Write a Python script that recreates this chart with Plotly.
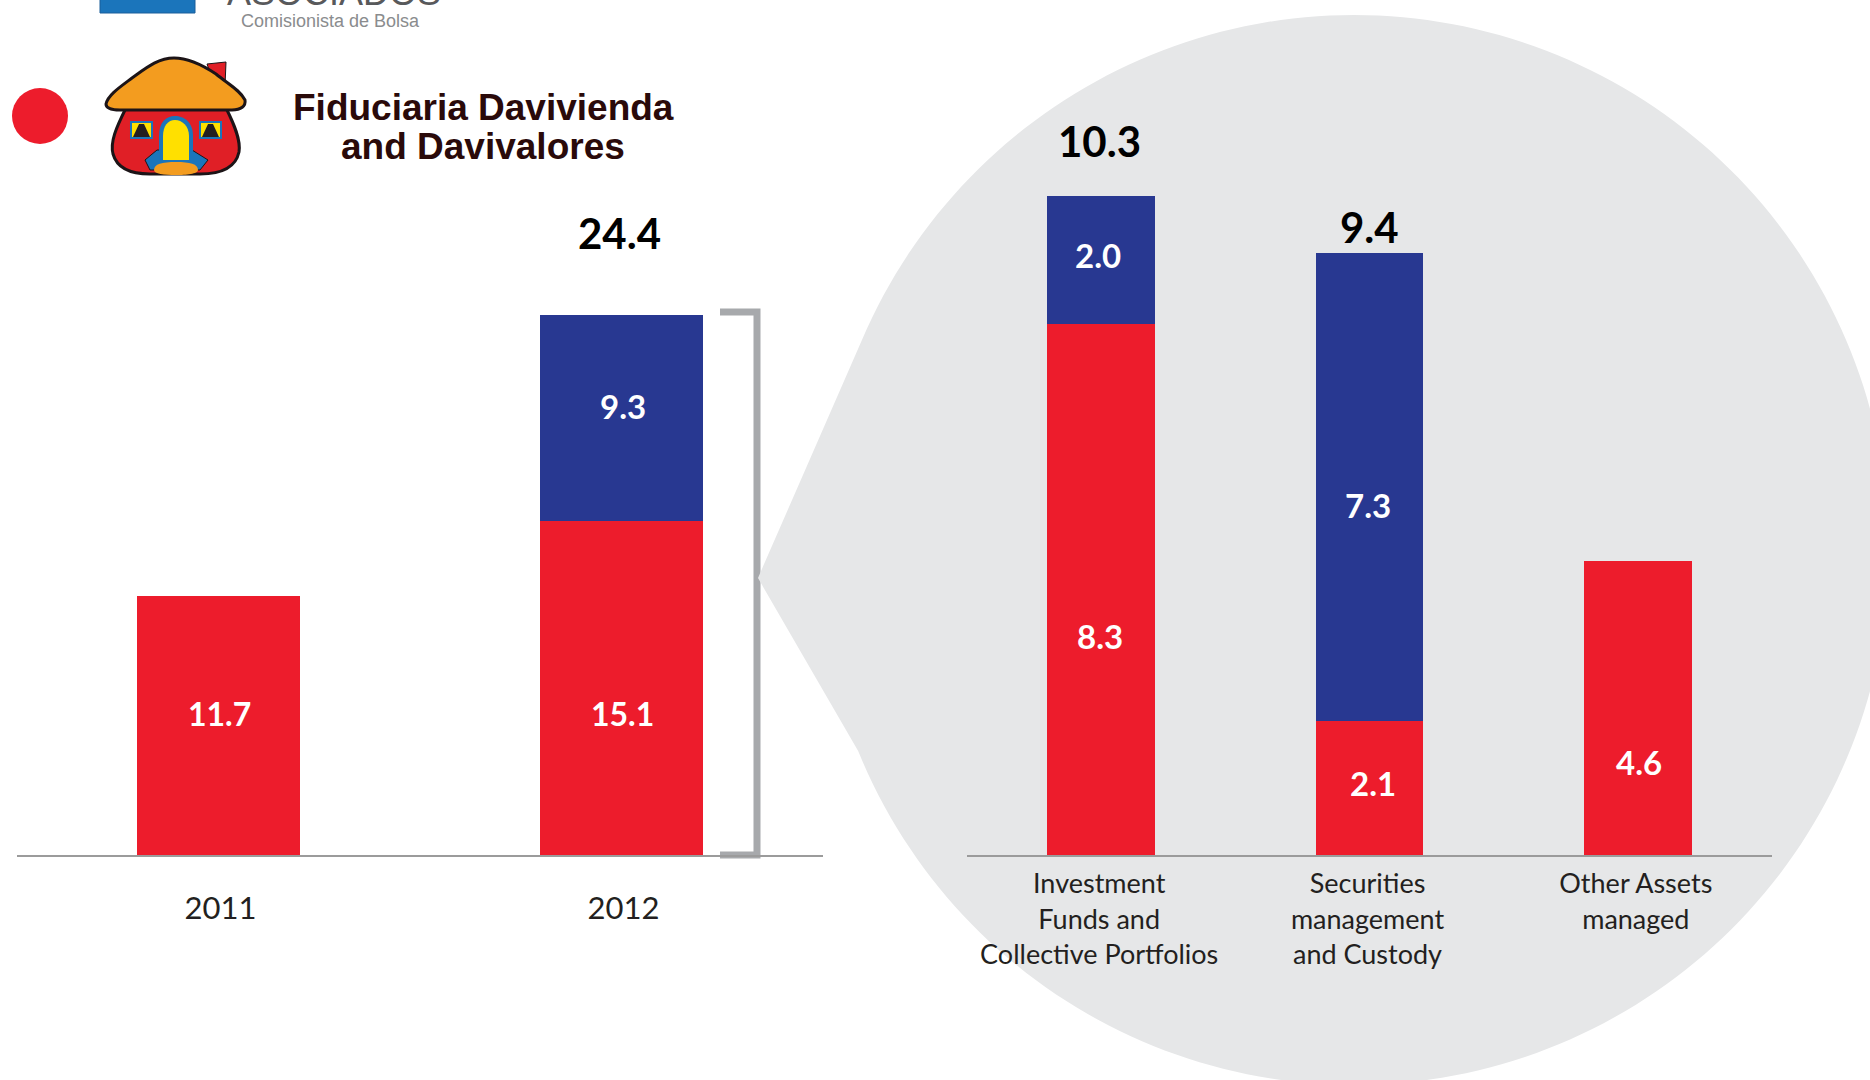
import math
import plotly.graph_objects as go

# Chart values (trillions of pesos)
years = ["2011", "2012"]
year_red = [11.7, 15.1]
year_blue = [None, 9.3]
year_total = 24.4

lines = ["Investment<br>Funds and<br>Collective Portfolios",
         "Securities<br>management<br>and Custody",
         "Other Assets<br>managed"]
line_red = [8.3, 2.1, 4.6]
line_blue = [2.0, 7.3, None]
line_total = [10.3, 9.4]

W, H = 1870, 1080
BASE = 855
RED, BLUE = "#ED1C2C", "#283891"
BUBBLE, BRACKET, AXIS = "#E6E7E8", "#A7A9AC", "#9B9B9B"
LABEL = "Lato"


def px(x):
    return x / W


def py(y):
    return 1 - y / H


def path(points, close=True):
    body = "L".join(f"{px(x):.5f},{py(y):.5f}" for x, y in points)
    return "M" + body + ("Z" if close else "")


def curve(d):
    """SVG-like curve written in canvas pixels: tokens are commands and x,y pairs."""
    out = []
    for tok in d.split():
        if "," in tok:
            x, y = tok.split(",")
            out.append(f"{px(float(x)):.5f},{py(float(y)):.5f}")
        else:
            out.append(tok)
    return " ".join(out)


# Callout bubble: a circle pulled out to a point next to the bracket.
# The outline leaves the tip, follows the circle round the bottom, right and top, and returns.
cx, cy, r = 1354, 550, 535
a0 = math.atan2(751 - cy, 858 - cx)
a1 = math.atan2(340 - cy, 862 - cx)
if a1 > a0:
    a1 -= 2 * math.pi
arc = [(cx + r * math.cos(a0 + (a1 - a0) * i / 240),
        cy + r * math.sin(a0 + (a1 - a0) * i / 240)) for i in range(241)]
bubble = [(758, 578)] + arc

shapes = [
    # bracket tying the 2012 column to the breakdown
    dict(type="path", xref="paper", yref="paper", layer="below",
         path=path([(720, 312), (757, 312), (757, 855), (720, 855)], close=False),
         line=dict(color=BRACKET, width=7), fillcolor="rgba(0,0,0,0)"),
    dict(type="path", xref="paper", yref="paper", layer="below",
         path=path(bubble), fillcolor=BUBBLE, line=dict(width=0)),
    # marker dot
    dict(type="circle", xref="paper", yref="paper", layer="above",
         x0=px(12), x1=px(68), y0=py(144), y1=py(88), fillcolor=RED, line=dict(width=0)),
    # partial blue block of the logo above
    dict(type="rect", xref="paper", yref="paper", layer="above",
         x0=px(100), x1=px(195), y0=py(13), y1=py(-2), fillcolor="#1B75BB",
         line=dict(color="#1B5E9A", width=1)),
]


def logo(d, fill, line=None, width=0):
    shapes.append(dict(type="path", xref="paper", yref="paper", layer="above",
                       path=curve(d), fillcolor=fill,
                       line=dict(color=line or fill, width=width)))


INK = "#1C1417"
# house logo: chimney, walls, roof, door, windows and step
logo("M 207,64 L 226,62 L 225,86 L 212,78 Z", "#E01F26", INK, 1)
logo("M 126,108 C 116,128 110,142 113,154 C 117,168 130,174 150,174 L 200,174 "
     "C 224,174 236,166 239,152 C 241,140 234,124 226,108 Z", "#E01F26", INK, 3)
logo("M 174,58 C 158,58 146,68 132,78 C 120,87 108,95 106,104 C 106,109 112,110 120,110 "
     "L 232,110 C 241,110 246,106 245,100 C 240,90 228,84 216,74 C 204,66 190,58 174,58 Z",
     "#F39C1F", INK, 3)
logo("M 145,160 L 157,150 L 192,150 L 208,160 L 200,170 L 150,170 Z", "#1B75BB", INK, 1)
logo("M 159,160 L 159,136 C 159,122 166,116 175,116 C 184,116 193,122 193,136 L 193,160 Z",
     "#1B75BB")
logo("M 163,160 L 163,136 C 163,126 168,120 175,120 C 182,120 189,126 189,136 L 189,160 Z",
     "#FFE000")
logo("M 154,170 C 154,164 162,162 176,162 C 190,162 198,164 198,170 C 198,174 186,175 176,175 "
     "C 164,175 154,174 154,170 Z", "#F39C1F")
for left in (131, 200):
    logo(f"M {left},122 L {left + 21},122 L {left + 21},138 L {left},138 Z", "#FFE000", "#1B75BB", 2)
    logo(f"M {left + 2},137 L {left + 8},124 L {left + 13},124 L {left + 19},137 Z", "#231F20")

fig = go.Figure()
for name, ys, color in (("Red", year_red, RED), ("Blue", year_blue, BLUE)):
    fig.add_bar(x=years, y=ys, name=name, marker=dict(color=color, line=dict(width=0)),
                width=0.403, xaxis="x", yaxis="y", showlegend=False)
for name, ys, color in (("Red", line_red, RED), ("Blue", line_blue, BLUE)):
    fig.add_bar(x=lines, y=ys, name=name, marker=dict(color=color, line=dict(width=0)),
                width=0.402, xaxis="x2", yaxis="y2", showlegend=False)


def note(text, x_px, y_px, size, color, family=LABEL, bold=False, **kw):
    return dict(text=f"<b>{text}</b>" if bold else text, xref="paper", yref="paper",
                x=px(x_px), y=py(y_px), xanchor="center", yanchor="middle", showarrow=False,
                font=dict(family=family, size=size, color=color), **kw)


WHITE = "#FFFFFF"
notes = [
    note("Fiduciaria Davivienda", 483, 107, 37, "#2A0A0A", "Liberation Sans", True),
    note("and Davivalores", 483, 147, 37, "#2A0A0A", "Liberation Sans", True),
    note("ASOCIADOS", 334, -8, 36, "#58595B", "Liberation Sans"),
    note("Comisionista de Bolsa", 330, 21, 18, "#8A8C8E", "Liberation Sans"),
    note(f"{year_total:.1f}", 619, 233, 42, "#000000", LABEL, True),
    note(f"{line_total[0]:.1f}", 1099, 141, 42, "#000000", LABEL, True),
    note(f"{line_total[1]:.1f}", 1369, 227, 42, "#000000", LABEL, True),
    note(f"{year_red[0]:.1f}", 219, 713, 32, WHITE, LABEL, True),
    note(f"{year_red[1]:.1f}", 622, 713, 32, WHITE, LABEL, True),
    note(f"{year_blue[1]:.1f}", 623, 406, 33, WHITE, LABEL, True),
    note(f"{line_red[0]:.1f}", 1100, 636, 33, WHITE, LABEL, True),
    note(f"{line_blue[0]:.1f}", 1098, 255, 33, WHITE, LABEL, True),
    note(f"{line_red[1]:.1f}", 1373, 783, 33, WHITE, LABEL, True),
    note(f"{line_blue[1]:.1f}", 1368, 505, 33, WHITE, LABEL, True),
    note(f"{line_red[2]:.1f}", 1639, 762, 33, WHITE, LABEL, True),
]

x_common = dict(type="category", showline=True, linecolor=AXIS, linewidth=2, showgrid=False,
                zeroline=False, ticks="", tickangle=0, automargin=False)
y_common = dict(showgrid=False, zeroline=False, showticklabels=False, ticks="", showline=False,
                automargin=False)

fig.update_layout(
    width=W, height=H, margin=dict(l=0, r=0, t=0, b=0), autosize=False,
    paper_bgcolor="#FFFFFF", plot_bgcolor="rgba(0,0,0,0)",
    barmode="stack", bargap=0, showlegend=False,
    shapes=shapes, annotations=notes,
    xaxis=dict(domain=[px(17), px(823)], range=[-0.5, 1.5], anchor="y",
               tickfont=dict(family=LABEL, size=31, color="#231F20"), ticklabelstandoff=25,
               ticklabelshift=2, **x_common),
    yaxis=dict(domain=[py(BASE), 1], range=[0, BASE / 22.15], anchor="x", **y_common),
    xaxis2=dict(domain=[px(967), px(1772)], range=[-0.5, 2.5], anchor="y2",
                tickfont=dict(family=LABEL, size=27, color="#231F20"), ticklabelstandoff=4,
                ticklabelshift=-2, **x_common),
    yaxis2=dict(domain=[py(BASE), 1], range=[0, BASE / 64], anchor="x2", **y_common),
)

fig.write_html("out.html")
